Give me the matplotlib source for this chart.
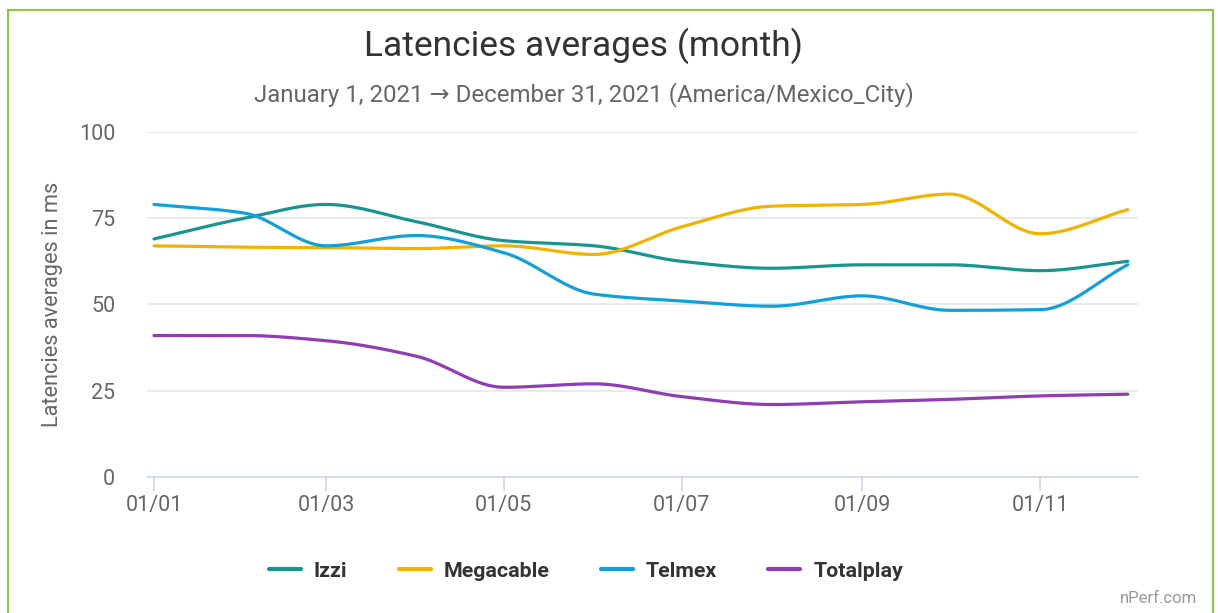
import numpy as np
import matplotlib.pyplot as plt
from matplotlib.patches import Rectangle

plt.rcParams['font.family'] = ['Roboto', 'DejaVu Sans']

# Data: monthly averages (ms), first day of each month of 2021
month_days = [0, 31, 59, 90, 120, 151, 181, 212, 243, 273, 304, 334]
izzi = [69, 75, 79, 74, 68.5, 67, 62.5, 60.5, 61.5, 61.5, 59.8, 62.5]
megacable = [67, 66.6, 66.5, 66.2, 67, 64.5, 72.5, 78.5, 79, 82, 70.5, 77.5]
telmex = [79, 76.5, 67, 70, 65, 53, 51, 49.5, 52.5, 48.3, 48.5, 61.5]
totalplay = [41, 41, 39.5, 35, 26, 27, 23.3, 21, 21.8, 22.5, 23.5, 24]

series_names = ["Izzi", "Megacable", "Telmex", "Totalplay"]
series_colors = ["#16968f", "#f2b200", "#12a0dc", "#8e3db3"]
tick_days = [0, 59, 120, 181, 243, 304]
tick_labels = ["01/01", "01/03", "01/05", "01/07", "01/09", "01/11"]


def monotone(x, y, n=400):
    """Monotone cubic (Fritsch-Carlson) curve through the points."""
    x = np.asarray(x, float)
    y = np.asarray(y, float)
    h = np.diff(x)
    d = np.diff(y) / h
    m = np.zeros_like(y)
    m[0], m[-1] = d[0], d[-1]
    for i in range(1, len(y) - 1):
        if d[i - 1] * d[i] <= 0:
            m[i] = 0
        else:
            w1 = 2 * h[i] + h[i - 1]
            w2 = h[i] + 2 * h[i - 1]
            m[i] = (w1 + w2) / (w1 / d[i - 1] + w2 / d[i])
    xs = np.linspace(x[0], x[-1], n)
    idx = np.clip(np.searchsorted(x, xs) - 1, 0, len(x) - 2)
    t = (xs - x[idx]) / h[idx]
    h00 = 2 * t**3 - 3 * t**2 + 1
    h10 = t**3 - 2 * t**2 + t
    h01 = -2 * t**3 + 3 * t**2
    h11 = t**3 - t**2
    ys = h00 * y[idx] + h10 * h[idx] * m[idx] + h01 * y[idx + 1] + h11 * h[idx] * m[idx + 1]
    return xs, ys


fig = plt.figure(figsize=(12.18, 6.13), dpi=100)
ax = fig.add_axes([0.1207, 0.2219, 0.934 - 0.1207, 0.7847 - 0.2219])

# green frame around the card
fig.patches.append(Rectangle((8 / 1218, -0.1), 1205 / 1218, 1 - 10 / 613 + 0.1,
                             transform=fig.transFigure, fill=False,
                             edgecolor="#8cc63f", linewidth=1.5))

for name, vals, col in zip(series_names, [izzi, megacable, telmex, totalplay], series_colors):
    xs, ys = monotone(month_days, vals)
    ax.plot(xs, ys, color=col, linewidth=2.3, label=name, solid_capstyle="round")

ax.set_xlim(-2.4, 337.4)
ax.set_ylim(0, 100)
ax.set_yticks([0, 25, 50, 75, 100])
ax.set_xticks(tick_days)
ax.set_xticklabels(tick_labels)
ax.grid(axis="y", color="#e6e6e6", linewidth=1.2)
ax.set_axisbelow(True)
for s in ["top", "right", "left"]:
    ax.spines[s].set_visible(False)
ax.spines["bottom"].set_color("#ccd6eb")
ax.spines["bottom"].set_linewidth(1.2)
ax.tick_params(axis="y", length=0, pad=23, labelsize=15.5, labelcolor="#666666")
ax.tick_params(axis="x", length=10, color="#ccd6eb", width=1.2, pad=3,
               labelsize=15.5, labelcolor="#666666")
ax.set_ylabel("Latencies averages in ms", fontsize=15.7, color="#666666", labelpad=11)

fig.text(0.479, 0.925, "Latencies averages (month)", ha="center", va="center",
         fontsize=25.5, color="#333333")
fig.text(0.479, 0.845, "January 1, 2021 \u2192 December 31, 2021 (America/Mexico_City)",
         ha="center", va="center", fontsize=17.3, color="#666666")

leg = fig.legend(loc="center", bbox_to_anchor=(0.481, 0.068), ncol=4, frameon=False,
                 handlelength=1.5, handletextpad=0.6, columnspacing=2.4,
                 prop={"size": 15.4, "weight": "bold"})
for txt in leg.get_texts():
    txt.set_color("#333333")
for line in leg.get_lines():
    line.set_linewidth(3)

fig.text(0.983, 0.023, "nPerf.com", ha="right", va="center", fontsize=12, color="#999999")

fig.savefig("out.png", dpi=100)
